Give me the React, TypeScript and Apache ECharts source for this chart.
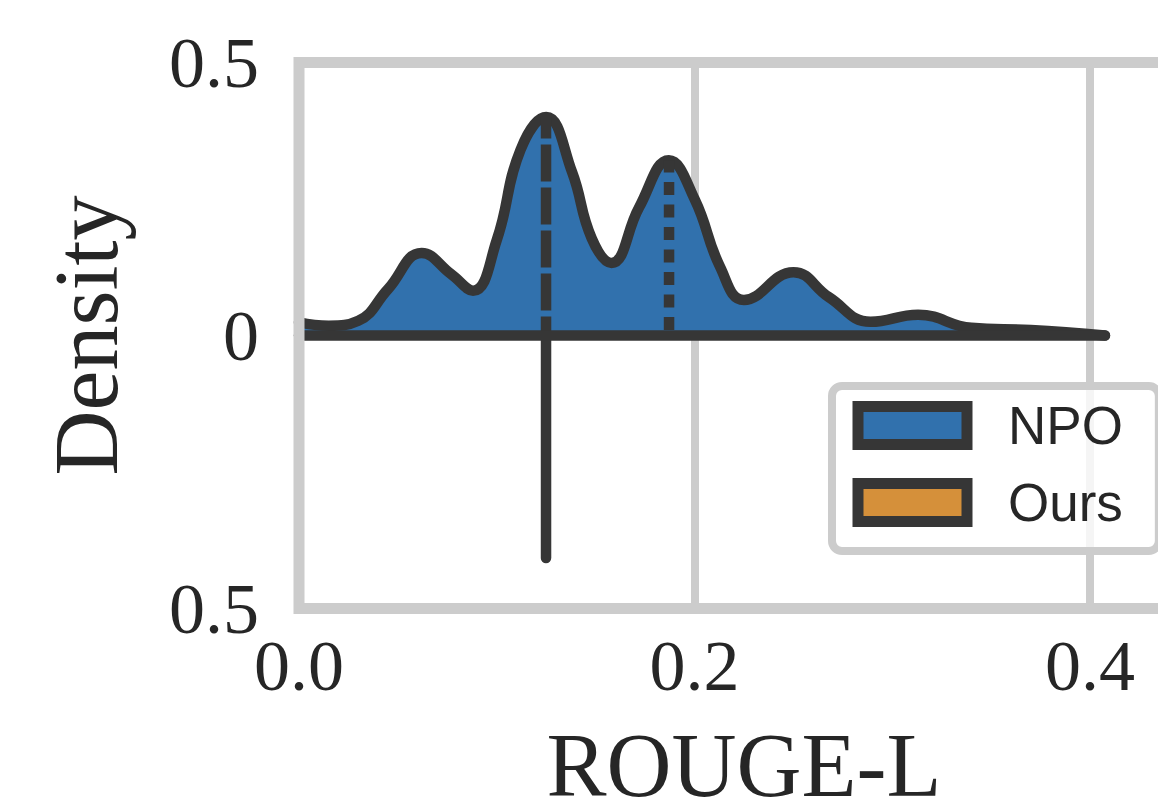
import React, { useEffect, useRef } from "react";
import * as echarts from "echarts";

// ROUGE-L values (x) and NPO kernel-density estimate (upper half of split violin)
const npoX = [
  0, 0.015, 0.03, 0.045, 0.062, 0.077, 0.088, 0.1, 0.112, 0.125, 0.138, 0.148,
  0.158, 0.172, 0.187, 0.2, 0.213, 0.225, 0.25, 0.268, 0.289, 0.313, 0.34, 0.37,
  0.4075,
];
const npoDensity = [
  0.024, 0.018, 0.027, 0.085, 0.151, 0.112, 0.082, 0.175, 0.34, 0.4, 0.3, 0.178,
  0.133, 0.235, 0.321, 0.25, 0.125, 0.065, 0.116, 0.07, 0.025, 0.038, 0.014, 0.01,
  0,
];
// NPO quartile markers
const npoMedianX = 0.1249;
const npoMedianDensity = 0.4;
const npoQ3X = 0.1871;
const npoQ3Density = 0.321;
// "Ours": degenerate distribution (single value) drawn as a line below the centre
const oursX = 0.1249;
const oursDensity = 0.4075;

const seriesNames = ["NPO", "Ours"];
const xTicks = [0, 0.2, 0.4];
const yTicks = [-0.5, 0, 0.5];

const fills: Record<string, string> = { NPO: "#3171ad", Ours: "#d5903a" };
const INK = "#363636";
const TEXT = "#262626";
const GRID = "#cccccc";
const SERIF = "'Liberation Serif', 'Times New Roman', serif";
const SANS = "'Liberation Sans', Arial, sans-serif";

export default function App() {
  const ref = useRef<HTMLDivElement>(null);

  useEffect(() => {
    if (!ref.current) return;
    const chart = echarts.init(ref.current, undefined, { renderer: "svg" });
    const lastX = npoX[npoX.length - 1];
    const option: any = {
      animation: false,
      grid: {
        left: 299,
        top: 62.5,
        width: 890,
        height: 546,
        outerBoundsMode: "none",
        containLabel: false,
        show: true,
        borderColor: GRID,
        borderWidth: 11,
        backgroundColor: "transparent",
        z: 5,
      },
      xAxis: {
        type: "value",
        min: 0,
        max: 0.45,
        interval: 0.2,
        axisLine: { show: false },
        axisTick: { show: false },
        splitLine: { show: true, lineStyle: { color: GRID, width: 8 } },
        axisLabel: {
          fontFamily: SERIF,
          fontSize: 72,
          color: TEXT,
          margin: 21,
          showMaxLabel: false,
          formatter: (v: number) =>
            xTicks.some((t) => Math.abs(t - v) < 1e-9) ? v.toFixed(1) : "",
        },
        name: "ROUGE-L",
        nameLocation: "middle",
        nameGap: 112,
        nameTextStyle: { fontFamily: SERIF, fontSize: 90, color: TEXT },
      },
      yAxis: {
        type: "value",
        min: -0.5,
        max: 0.5,
        interval: 0.5,
        axisLine: { show: false },
        axisTick: { show: false },
        splitLine: { show: false },
        axisLabel: {
          fontFamily: SERIF,
          fontSize: 72,
          color: TEXT,
          margin: 40,
          formatter: (v: number) =>
            yTicks.some((t) => Math.abs(t - v) < 1e-9) ? String(Math.abs(v)) : "",
        },
        name: "Density",
        nameLocation: "middle",
        nameGap: 168,
        nameTextStyle: { fontFamily: SERIF, fontSize: 90, color: TEXT },
      },
      legend: {
        data: seriesNames.map((n) => ({
          name: n,
          icon: "rect",
          itemStyle: { color: fills[n], borderColor: INK, borderWidth: 11 },
        })),
        orient: "vertical",
        left: 832,
        top: 386,
        padding: [13, 36, 22, 20.5],
        itemWidth: 109,
        itemHeight: 38,
        itemGap: 24,
        backgroundColor: "rgba(255,255,255,0.8)",
        borderColor: GRID,
        borderWidth: 8,
        borderRadius: 10,
        selectedMode: false,
        textStyle: {
          fontFamily: SANS,
          fontSize: 53,
          color: TEXT,
          padding: [0, 0, 0, 36],
        },
        z: 10,
      },
      series: [
        {
          name: "NPO",
          type: "line",
          data: npoX.map((x, i) => [x, npoDensity[i]]),
          smooth: 0.45,
          symbol: "none",
          itemStyle: { color: fills.NPO },
          lineStyle: { color: INK, width: 10.5, join: "round", cap: "round" },
          areaStyle: { color: fills.NPO, origin: 0, opacity: 1 },
          z: 2,
        },
        {
          name: "NPO median",
          type: "line",
          data: [
            [npoMedianX, 0],
            [npoMedianX, npoMedianDensity],
          ],
          symbol: "none",
          lineStyle: { color: INK, width: 10.5, type: [37, 6], dashOffset: 17.5 },
          z: 3,
        },
        {
          name: "NPO Q3",
          type: "line",
          data: [
            [npoQ3X, 0],
            [npoQ3X, npoQ3Density],
          ],
          symbol: "none",
          lineStyle: { color: INK, width: 10.5, type: [13, 9.5], dashOffset: 17 },
          z: 3,
        },
        {
          name: "Ours",
          type: "line",
          data: [
            [oursX, 0],
            [oursX, -oursDensity],
          ],
          symbol: "none",
          itemStyle: { color: fills.Ours },
          lineStyle: { color: INK, width: 10.5, cap: "round" },
          z: 3,
        },
        {
          name: "centre",
          type: "line",
          data: [
            [0, 0],
            [lastX, 0],
          ],
          symbol: "none",
          lineStyle: { color: INK, width: 10.5, cap: "round" },
          z: 4,
        },
      ],
    };
    chart.setOption(option);
    return () => chart.dispose();
  }, []);

  return (
    <div
      ref={ref}
      style={{ position: "absolute", left: 0, top: 0, width: 1158, height: 803, background: "#fff" }}
    />
  );
}
